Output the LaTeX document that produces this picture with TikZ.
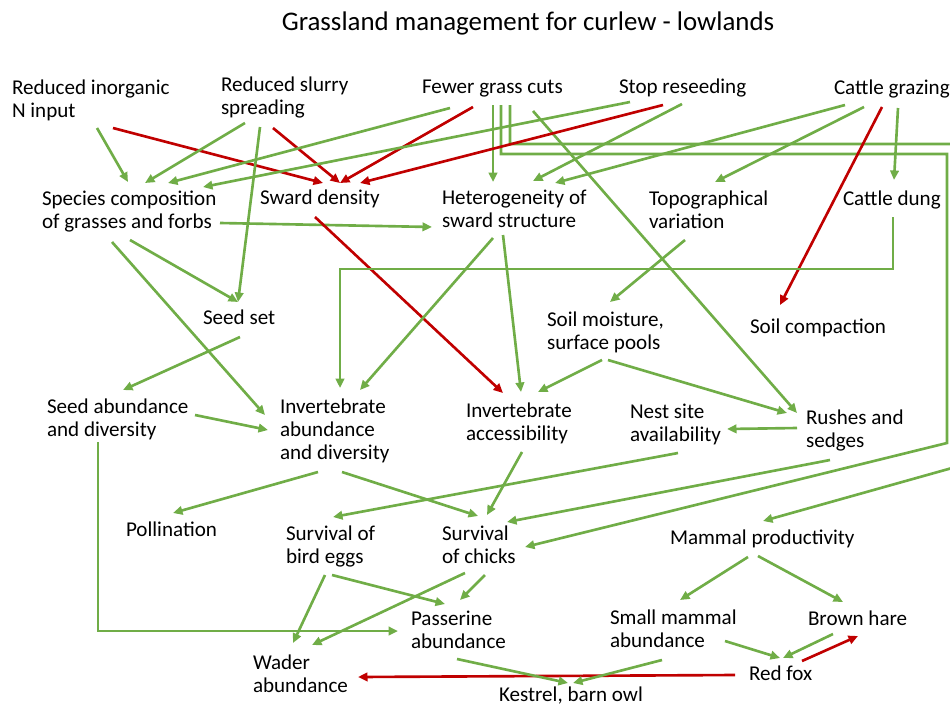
\documentclass[tikz,border=0pt]{standalone}
\usepackage{fontspec}
\setmainfont{Carlito}
\usetikzlibrary{arrows.meta}
\definecolor{leaf}{RGB}{112,173,71}
\definecolor{brick}{RGB}{192,0,0}

\begin{document}
\begin{tikzpicture}[x=0.02cm,y=-0.02cm,
  lbl/.style={anchor=north west,inner sep=0pt,outer sep=0pt,align=left,font=\fontsize{12}{13.1}\selectfont},
  helps/.style={draw=leaf,line width=1.5pt,-{Triangle[length=0.19cm,width=0.17cm]}},
  harms/.style={helps,draw=brick}]
  \useasboundingbox (0,0) rectangle (950,707);
  \node[anchor=base,font=\fontsize{15.3}{18}\selectfont] (ttl) at (528,30) {Grassland management for curlew - lowlands};

  % practices along the top
  \node[lbl] (rin) at (12,80) {Reduced inorganic\\N input};
  \node[lbl] (rss) at (221,77) {Reduced slurry\\spreading};
  \node[lbl] (fgc) at (422,80) {Fewer grass cuts};
  \node[lbl] (stp) at (619,79) {Stop reseeding};
  \node[lbl] (cgr) at (834,80) {Cattle grazing};

  % sward and site
  \node[lbl] (spc) at (42,191) {Species composition\\of grasses and forbs};
  \node[lbl] (swd) at (260,190) {Sward density};
  \node[lbl] (het) at (442,190) {Heterogeneity of\\sward structure};
  \node[lbl] (tpv) at (649,191) {Topographical\\variation};
  \node[lbl] (dng) at (843,191) {Cattle dung};
  \node[lbl] (sds) at (203,310) {Seed set};
  \node[lbl] (slm) at (547,312) {Soil moisture,\\surface pools};
  \node[lbl] (slc) at (750,319) {Soil compaction};

  % food and cover
  \node[lbl] (sab) at (47,399) {Seed abundance\\and diversity};
  \node[lbl] (iab) at (280,399) {Invertebrate\\abundance\\and diversity};
  \node[lbl] (iac) at (466,403) {Invertebrate\\accessibility};
  \node[lbl] (nst) at (630,404) {Nest site\\availability};
  \node[lbl] (rsh) at (806,410) {Rushes and\\sedges};

  % animals
  \node[lbl] (pol) at (126,522) {Pollination};
  \node[lbl] (sbe) at (286,526) {Survival of\\bird eggs};
  \node[lbl] (sch) at (442,526) {Survival\\of chicks};
  \node[lbl] (mam) at (670,530) {Mammal productivity};
  \node[lbl] (pas) at (411,611) {Passerine\\abundance};
  \node[lbl] (smm) at (610,610) {Small mammal\\abundance};
  \node[lbl] (bhr) at (808,611) {Brown hare};
  \node[lbl] (wad) at (253,655) {Wader\\abundance};
  \node[lbl] (fox) at (749,666) {Red fox};
  \node[lbl] (kes) at (499,687) {Kestrel, barn owl};

  % from the practices
  \draw[helps] ([shift={(85,48)}]rin.north west) -- ([shift={(86,-9)}]spc.north west);
  \draw[harms] ([shift={(101,48)}]rin.north west) -- ([shift={(63,-7)}]swd.north west);
  \draw[helps] ([shift={(24,46)}]rss.north west) -- ([shift={(103,-8)}]spc.north west);
  \draw[helps] ([shift={(39,50)}]rss.north west) -- ([shift={(35,-8)}]sds.north west);
  \draw[harms] ([shift={(52,51)}]rss.north west) -- ([shift={(80,-7)}]swd.north west);
  \draw[helps] ([shift={(28,28)}]fgc.north west) -- ([shift={(126,-8)}]spc.north west);
  \draw[harms] ([shift={(51,27)}]fgc.north west) -- ([shift={(80,-7)}]swd.north west);
  \draw[helps] ([shift={(71,25)}]fgc.north west) -- ([shift={(51,-8)}]het.north west);
  \draw[helps] ([shift={(79,25)}]fgc.north west) -- ++(0,49) -| ++(446,289) -- ([shift={(83,21)}]sch.north west);
  \draw[helps] ([shift={(88,25)}]fgc.north west) -- ++(0,39) -| ++(442,324) -- ([shift={(93,-9)}]mam.north west);
  \draw[helps] ([shift={(111,31)}]fgc.north west) -- ([shift={(-9,3)}]rsh.north west);
  \draw[helps] ([shift={(11,23)}]stp.north west) -- ([shift={(161,-4)}]spc.north west);
  \draw[harms] ([shift={(44,26)}]stp.north west) -- ([shift={(100,-7)}]swd.north west);
  \draw[helps] ([shift={(63,25)}]stp.north west) -- ([shift={(91,-9)}]het.north west);
  \draw[helps] ([shift={(11,25)}]cgr.north west) -- ([shift={(113,-7)}]het.north west);
  \draw[helps] ([shift={(30,27)}]cgr.north west) -- ([shift={(66,-9)}]tpv.north west);
  \draw[harms] ([shift={(48,27)}]cgr.north west) -- ([shift={(30,-14)}]slc.north west);
  \draw[helps] ([shift={(64,28)}]cgr.north west) -- ([shift={(51,-11)}]dng.north west);

  % sward to food
  \draw[helps] ([shift={(178,32)}]spc.north west) -- ([shift={(-10,37)}]het.north west);
  \draw[helps] ([shift={(88,49)}]spc.north west) -- ([shift={(35,-8)}]sds.north west);
  \draw[helps] ([shift={(70,51)}]spc.north west) -- ([shift={(-15,16)}]iab.north west);
  \draw[harms] ([shift={(55,27)}]swd.north west) -- ([shift={(37,-10)}]iac.north west);
  \draw[helps] ([shift={(51,48)}]het.north west) -- ([shift={(80,-9)}]iab.north west);
  \draw[helps] ([shift={(61,45)}]het.north west) -- ([shift={(55,-11)}]iac.north west);
  \draw[helps] ([shift={(36,49)}]tpv.north west) -- ([shift={(63,-10)}]slm.north west);
  \draw[helps] ([shift={(50,26)}]dng.north west) -- ++(0,52) -| ([shift={(60,-11)}]iab.north west);
  \draw[helps] ([shift={(37,27)}]sds.north west) -- ([shift={(76,-9)}]sab.north west);
  \draw[helps] ([shift={(148,16)}]sab.north west) -- ([shift={(-12,31)}]iab.north west);
  \draw[helps] ([shift={(51,43)}]sab.north west) |- ([shift={(-13,20)}]pas.north west);
  \draw[helps] ([shift={(55,48)}]slm.north west) -- ([shift={(72,-11)}]iac.north west);
  \draw[helps] ([shift={(61,48)}]slm.north west) -- ([shift={(-19,3)}]rsh.north west);
  \draw[helps] ([shift={(-9,18)}]rsh.north west) -- ([shift={(97,25)}]nst.north west);

  % food to birds and mammals
  \draw[helps] ([shift={(38,73)}]iab.north west) -- ([shift={(47,-9)}]pol.north west);
  \draw[helps] ([shift={(62,73)}]iab.north west) -- ([shift={(36,-10)}]sch.north west);
  \draw[helps] ([shift={(56,49)}]iac.north west) -- ([shift={(45,-11)}]sch.north west);
  \draw[helps] ([shift={(48,49)}]nst.north west) -- ([shift={(47,-9)}]sbe.north west);
  \draw[helps] ([shift={(24,50)}]rsh.north west) -- ([shift={(65,-4)}]sch.north west);
  \draw[helps] ([shift={(39,49)}]sbe.north west) -- ([shift={(40,-12)}]wad.north west);
  \draw[helps] ([shift={(46,49)}]sbe.north west) -- ([shift={(34,-7)}]pas.north west);
  \draw[helps] ([shift={(23,47)}]sch.north west) -- ([shift={(59,-10)}]wad.north west);
  \draw[helps] ([shift={(43,49)}]sch.north west) -- ([shift={(49,-11)}]pas.north west);
  \draw[helps] ([shift={(78,27)}]mam.north west) -- ([shift={(70,-10)}]smm.north west);
  \draw[helps] ([shift={(88,26)}]mam.north west) -- ([shift={(35,-9)}]bhr.north west);
  \draw[helps] ([shift={(115,31)}]smm.north west) -- ([shift={(31,-8)}]fox.north west);
  \draw[helps] ([shift={(25,23)}]bhr.north west) -- ([shift={(34,-8)}]fox.north west);
  \draw[harms] ([shift={(53,-5)}]fox.north west) -- ([shift={(50,25)}]bhr.north west);
  \draw[harms] ([shift={(-14,9)}]fox.north west) -- ([shift={(105,22)}]wad.north west);
  \draw[helps] ([shift={(46,48)}]pas.north west) -- ([shift={(69,-4)}]kes.north west);
  \draw[helps] ([shift={(52,50)}]smm.north west) -- ([shift={(74,-4)}]kes.north west);
\end{tikzpicture}
\end{document}
